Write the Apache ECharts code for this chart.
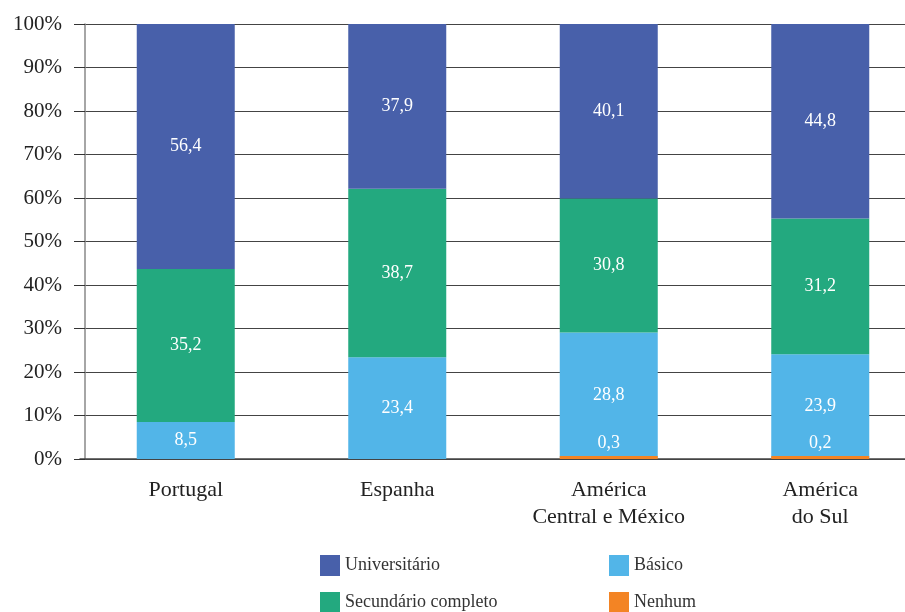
<!DOCTYPE html>
<html>
<head>
<meta charset="utf-8">
<script src="https://cdn.jsdelivr.net/npm/echarts@6/dist/echarts.min.js"></script>
<style>
html, body { margin: 0; padding: 0; background: #fff; overflow: hidden; }
#chart01 { width: 926px; height: 612px; }
</style>
</head>
<body>
<div id="chart01"></div>
<script>
var categories = ['Portugal', 'Espanha', 'América\nCentral e México', 'América\ndo Sul'];
var nenhum = ['-', '-', 0.3, 0.2];
var basico = [8.5, 23.4, 28.8, 23.9];
var secundario = [35.2, 38.7, 30.8, 31.2];
var universitario = [56.4, 37.9, 40.1, 44.8];
var yTicks = [0, 10, 20, 30, 40, 50, 60, 70, 80, 90, 100];

var serif = '"Liberation Serif", "DejaVu Serif", serif';

function fmt(p) {
    return String(p.value).replace('.', ',');
}

// chart div is a bit wider than the window: the plot runs off the right edge like the original
var myChart = echarts.init(document.getElementById('chart01'));
var legendText = { fontFamily: serif, fontSize: 18, color: '#333' };
var barLabel = { show: true, position: 'inside', color: '#fff', fontSize: 18, fontFamily: serif, formatter: fmt };
var option = {
    animation: false,
    textStyle: { fontFamily: serif },
    grid: {
        left: 80,
        right: 0,
        top: 24,
        bottom: 153
    },
    legend: [
        {
            left: 320,
            top: 555,
            height: 60,
            orient: 'vertical',
            padding: 0,
            icon: 'rect',
            itemWidth: 20,
            itemHeight: 21,
            itemGap: 16,
            textStyle: legendText,
            data: ['Universitário', 'Secundário completo']
        },
        {
            left: 609,
            top: 555,
            height: 60,
            orient: 'vertical',
            padding: 0,
            icon: 'rect',
            itemWidth: 20,
            itemHeight: 21,
            itemGap: 16,
            textStyle: legendText,
            data: ['Básico', 'Nenhum']
        }
    ],
    xAxis: {
        type: 'category',
        data: categories,
        axisLine: { lineStyle: { color: '#444', width: 1.5 } },
        axisTick: { alignWithLabel: true, length: 8, lineStyle: { color: '#444' } },
        axisLabel: {
            fontFamily: serif,
            fontSize: 22,
            color: '#222',
            margin: 18,
            lineHeight: 27
        }
    },
    yAxis: {
        type: 'value',
        min: 0,
        max: 100,
        interval: 10,
        offset: -5,
        axisLine: { show: true, lineStyle: { color: '#888', width: 1.5 } },
        axisTick: { show: true, length: 11, lineStyle: { color: '#333' } },
        splitLine: { lineStyle: { color: '#444', width: 1 } },
        axisLabel: {
            fontFamily: serif,
            fontSize: 21,
            color: '#222',
            margin: 23,
            formatter: function (v) { return yTicks.indexOf(v) >= 0 ? v + '%' : ''; }
        }
    },
    series: [
        {
            name: 'Nenhum',
            type: 'bar',
            stack: 'total',
            z: 3,
            barWidth: 98,
            barMinHeight: 3,
            itemStyle: { color: '#F38424' },
            label: {
                show: true,
                position: 'top',
                distance: 4,
                color: '#fff',
                fontSize: 18,
                fontFamily: serif,
                formatter: fmt
            },
            data: nenhum
        },
        {
            name: 'Básico',
            type: 'bar',
            stack: 'total',
            barWidth: 98,
            itemStyle: { color: '#52B5E8' },
            label: barLabel,
            data: basico
        },
        {
            name: 'Secundário completo',
            type: 'bar',
            stack: 'total',
            barWidth: 98,
            itemStyle: { color: '#23A97F' },
            label: barLabel,
            data: secundario
        },
        {
            name: 'Universitário',
            type: 'bar',
            stack: 'total',
            barWidth: 98,
            itemStyle: { color: '#4860AA' },
            label: barLabel,
            data: universitario
        }
    ]
};
if (option && typeof option === "object") {
    myChart.setOption(option, true);
}
</script>
</body>
</html>
